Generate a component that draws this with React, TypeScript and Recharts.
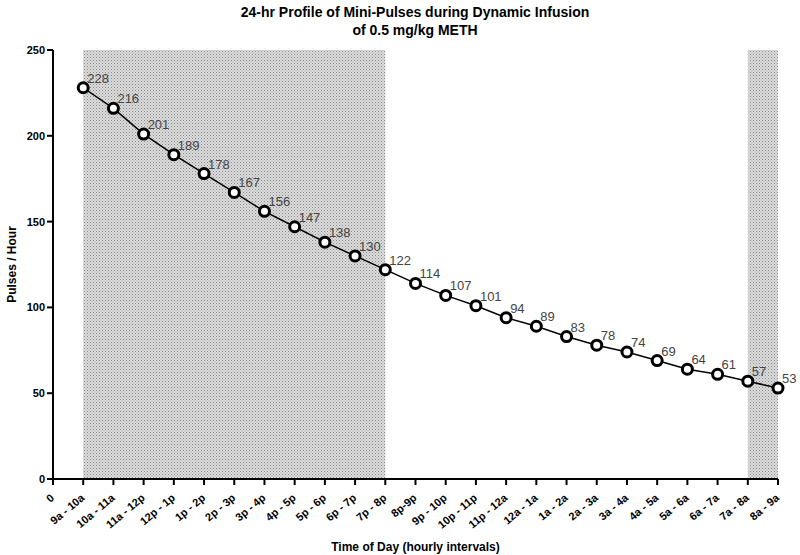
import {
  LineChart,
  Line,
  XAxis,
  YAxis,
  ReferenceArea,
  LabelList,
} from "recharts";

const hours = [1, 2, 3, 4, 5, 6, 7, 8, 9, 10, 11, 12, 13, 14, 15, 16, 17, 18, 19, 20, 21, 22, 23, 24];
const pulses = [228, 216, 201, 189, 178, 167, 156, 147, 138, 130, 122, 114, 107, 101, 94, 89, 83, 78, 74, 69, 64, 61, 57, 53];
const tickLabels = [
  "0", "9a - 10a", "10a - 11a", "11a - 12p", "12p - 1p", "1p - 2p", "2p - 3p",
  "3p - 4p", "4p - 5p", "5p - 6p", "6p - 7p", "7p - 8p", "8p-9p", "9p - 10p",
  "10p - 11p", "11p - 12a", "12a - 1a", "1a - 2a", "2a - 3a", "3a - 4a",
  "4a - 5a", "5a - 6a", "6a - 7a", "7a - 8a", "8a - 9a",
];
const yTicks = [0, 50, 100, 150, 200, 250];
const darkPeriods = [
  { from: 1, to: 11 },
  { from: 23, to: 24 },
];

const data = hours.map((h, i) => ({ hour: h, pulses: pulses[i] }));
const font = "'Liberation Sans', Arial, sans-serif";

const XTick = (props: any) => {
  const { x, y, payload } = props;
  return (
    <text
      x={x + 2}
      y={y + 12}
      transform={`rotate(-40, ${x + 2}, ${y + 12})`}
      textAnchor="end"
      fontFamily={font}
      fontWeight="bold"
      fontSize={11}
      fill="#000"
    >
      {tickLabels[payload.value]}
    </text>
  );
};

const PointLabel = (props: any) => {
  const { x, y, value } = props;
  return (
    <text x={x + 4} y={y - 5} fontFamily={font} fontSize={13} fill="#444">
      {value}
    </text>
  );
};

export default function App() {
  return (
    <div style={{ position: "absolute", left: 0, top: 0, background: "#fff" }}>
      <svg width={800} height={40} style={{ position: "absolute", left: 0, top: 0 }}>
        <text x={415} y={17} textAnchor="middle" fontFamily={font} fontWeight="bold" fontSize={14}>
          24-hr Profile of Mini-Pulses during Dynamic Infusion
        </text>
        <text x={415} y={35} textAnchor="middle" fontFamily={font} fontWeight="bold" fontSize={14}>
          of 0.5 mg/kg METH
        </text>
      </svg>
      <LineChart
        width={800}
        height={555}
        data={data}
        margin={{ top: 50, right: 22, left: 0, bottom: 0 }}
      >
        <defs>
          <pattern id="dots" width="3" height="3" patternUnits="userSpaceOnUse">
            <rect width="3" height="3" fill="#dcdcdc" />
            <rect width="1" height="1" fill="#8a8a8a" />
            <rect x="1.5" y="1.5" width="1" height="1" fill="#a0a0a0" />
          </pattern>
        </defs>
        {darkPeriods.map((p) => (
          <ReferenceArea
            key={p.from}
            x1={p.from}
            x2={p.to}
            y1={0}
            y2={250}
            fill="url(#dots)"
            fillOpacity={1}
            stroke="none"
          />
        ))}
        <XAxis
          dataKey="hour"
          type="number"
          domain={[0, 24]}
          ticks={tickLabels.map((_, i) => i)}
          interval={0}
          tick={<XTick />}
          tickSize={6}
          height={76}
          stroke="#000"
          strokeWidth={2}
          label={{
            value: "Time of Day (hourly intervals)",
            position: "insideBottom",
            offset: 4,
            style: { fontFamily: font, fontWeight: "bold", fontSize: 12, fill: "#000" },
          }}
        />
        <YAxis
          domain={[0, 250]}
          ticks={yTicks}
          width={53}
          tickSize={6}
          stroke="#000"
          strokeWidth={2}
          tick={{ fontFamily: font, fontWeight: "bold", fontSize: 11, fill: "#000" }}
          label={{
            value: "Pulses / Hour",
            angle: -90,
            position: "insideLeft",
            offset: 12,
            style: { fontFamily: font, fontWeight: "bold", fontSize: 12, fill: "#000", textAnchor: "middle" },
          }}
        />
        <Line
          type="linear"
          dataKey="pulses"
          stroke="#000"
          strokeWidth={1.5}
          dot={{ r: 5, fill: "#fff", stroke: "#000", strokeWidth: 3 }}
          activeDot={false}
          isAnimationActive={false}
        >
          <LabelList dataKey="pulses" content={<PointLabel />} />
        </Line>
      </LineChart>
    </div>
  );
}
